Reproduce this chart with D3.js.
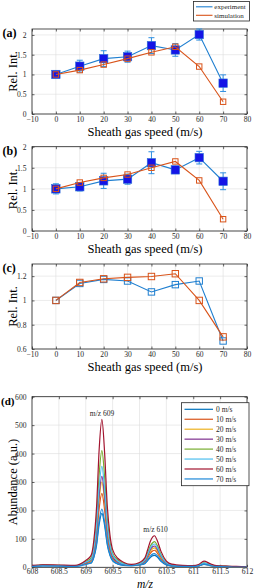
<!DOCTYPE html>
<html><head><meta charset="utf-8">
<script src="https://cdn.jsdelivr.net/npm/d3@7"></script>
<style>body{margin:0;background:#fff}svg{display:block}</style>
</head><body>
<script>
// ---------- data ----------
const speeds = [0,10,20,30,40,50,60,70];
const expA = [1.0,1.21,1.4,1.45,1.73,1.62,2.01,0.78];
const errA = [0.03,0.15,0.2,0.14,0.2,0.16,0.14,0.21];
const simA = [1.0,1.11,1.25,1.4,1.56,1.7,1.2,0.31];
const expB = [1.0,1.05,1.19,1.23,1.62,1.45,1.74,1.18];
const errB = [0.12,0.1,0.18,0.12,0.26,0.08,0.15,0.2];
const simB = [1.0,1.15,1.26,1.34,1.5,1.65,1.2,0.28];
const expC = [1.0,1.14,1.173,1.16,1.07,1.13,1.16,0.666];
const simC = [1.0,1.148,1.178,1.19,1.197,1.22,1.0,0.70];
const speedTicks = [-10,0,10,20,30,40,50,60,70,80];
const relTicksAB = [0,0.5,1,1.5,2];
const relTicksC = [0.6,0.8,1,1.2];

const mz = [608,608.2,608.5,608.8,609.0,609.1,609.15,609.2,609.25,609.3,609.35,609.4,609.45,609.5,609.6,609.7,609.85,
  610.0,610.1,610.15,610.2,610.25,610.28,610.33,610.4,610.5,610.6,610.8,611.0,611.1,611.2,611.3,611.4,611.6,611.8,612];
const ab0  = [4,7,6,4,14,15,34,76,152,190,148,80,42,23,11,7,6, 8,13,23,34,41,42,36,21,8,4,3,3,5,10,7,3,2,1,1];
const ab10 = [4,6,6,4,14,21,47,104,208,260,203,109,57,31,16,9,7, 9,18,33,49,58,60,51,30,12,6,4,3,5,12,8,4,3,2,2];
const ab20 = [5,7,6,5,15,24,54,120,240,300,234,126,66,36,18,11,8, 10,20,37,56,66,68,58,34,14,7,4,4,6,13,8,4,3,2,2];
const ab30 = [5,7,6,5,16,26,58,128,256,320,250,134,70,38,19,11,8, 11,22,41,62,73,75,64,38,15,8,5,4,6,14,9,4,3,2,2];
const ab40 = [5,8,7,5,20,33,74,164,328,410,320,172,90,49,25,14,9, 13,27,50,74,87,90,77,45,18,9,5,4,7,16,10,5,3,2,2];
const ab50 = [5,7,6,5,18,28,64,142,284,355,277,149,78,43,21,12,9, 12,25,45,67,80,82,70,41,16,8,5,4,7,15,10,5,3,2,2];
const ab60 = [7,9,8,7,24,42,94,208,416,520,406,218,114,62,31,18,10, 17,33,61,91,108,111,94,56,22,11,7,6,10,22,14,7,4,3,2];
const ab70 = [3,4,4,3,10,16,37,82,164,205,160,86,45,25,12,8,6, 8,14,26,39,47,48,41,24,10,5,3,3,5,11,7,3,2,1,1];
const specLabels = ["0 m/s","10 m/s","20 m/s","30 m/s","40 m/s","50 m/s","60 m/s","70 m/s"];
const specColors = ["#0072BD","#D95319","#EDB120","#7E2F8E","#77AC30","#4DBEEE","#A2142F","#1e88d8"];
const mzTicks = [608,608.5,609,609.5,610,610.5,611,611.5,612];
const abTicks = [0,100,200,300,400,500,600];

// ---------- drawing ----------
const W = 256, H = 588;
const FONT = "'Liberation Serif','Times New Roman',serif";
const svg = d3.select("body").append("svg").attr("width", W).attr("height", H)
  .style("font-family", FONT);
const L = 32, R = 247;
const ORANGE = "#D95319";

function frame(g, x, y, xt, yt, xfmt, yfmt, xpad) {
  const [x0, x1] = x.range(), [y0, y1] = y.range();
  g.append("g").selectAll("line").data(xt).join("line")
    .attr("x1", d => x(d)).attr("x2", d => x(d)).attr("y1", y0).attr("y2", y1)
    .attr("stroke", "#dedede").attr("stroke-width", 0.6);
  g.append("g").selectAll("line").data(yt).join("line")
    .attr("y1", d => y(d)).attr("y2", d => y(d)).attr("x1", x0).attr("x2", x1)
    .attr("stroke", "#dedede").attr("stroke-width", 0.6);
  const styleAx = a => {
    a.select(".domain").remove();
    a.selectAll("line").attr("stroke", "#262626").attr("stroke-width", 0.7);
    a.selectAll("text").attr("fill", "#262626").style("font-size", "7.6px").style("font-family", FONT);
  };
  g.append("g").attr("transform", `translate(0,${y0})`)
    .call(d3.axisBottom(x).tickValues(xt).tickFormat(xfmt).tickSizeInner(-2.5).tickSizeOuter(0).tickPadding(xpad))
    .call(styleAx);
  g.append("g").attr("transform", `translate(0,${y1})`)
    .call(d3.axisTop(x).tickValues(xt).tickFormat("").tickSizeInner(-2.5).tickSizeOuter(0))
    .call(styleAx);
  g.append("g").attr("transform", `translate(${x0},0)`)
    .call(d3.axisLeft(y).tickValues(yt).tickFormat(yfmt).tickSizeInner(-2.5).tickSizeOuter(0).tickPadding(5.5))
    .call(styleAx);
  g.append("g").attr("transform", `translate(${x1},0)`)
    .call(d3.axisRight(y).tickValues(yt).tickFormat("").tickSizeInner(-2.5).tickSizeOuter(0))
    .call(styleAx);
  g.append("rect").attr("x", x0).attr("y", y1).attr("width", x1 - x0).attr("height", y0 - y1)
    .attr("fill", "none").attr("stroke", "#262626").attr("stroke-width", 0.8);
}

function labels(top, bottom, label, labSize, labX, ylab, xlabY, xlab, xlabSize, italic) {
  svg.append("text").attr("x", labX).attr("y", top + 8).text(label)
    .style("font-size", labSize + "px").style("font-weight", "bold").attr("fill", "#000");
  svg.append("text").attr("transform", `translate(17,${(top + bottom) / 2}) rotate(-90)`)
    .attr("text-anchor", "middle").text(ylab).style("font-size", "12.5px").attr("fill", "#000");
  svg.append("text").attr("x", 145).attr("y", xlabY).attr("text-anchor", "middle").text(xlab)
    .style("font-size", xlabSize + "px").style("font-style", italic ? "italic" : "normal").attr("fill", "#000");
}

function relPanel(top, bottom, ydom, yt, exp, err, sim, label, filled) {
  const x = d3.scaleLinear().domain([-10, 80]).range([L, R]);
  const y = d3.scaleLinear().domain(ydom).range([bottom, top]);
  const g = svg.append("g");
  frame(g, x, y, speedTicks, yt, d3.format("d"), d => d3.format("")(d), 2.5);
  const line = d3.line().x((d, i) => x(speeds[i])).y(d => y(d));
  g.append("path").attr("d", line(exp)).attr("fill", "none").attr("stroke", "#1f7fd0").attr("stroke-width", 1.1);
  if (err) {
    const eg = g.append("g").attr("stroke", "#2f8fe0").attr("stroke-width", 1);
    speeds.forEach((s, i) => {
      const cx = x(s), yt1 = y(exp[i] + err[i]), yb = y(exp[i] - err[i]);
      eg.append("line").attr("x1", cx).attr("x2", cx).attr("y1", yt1).attr("y2", yb);
      eg.append("line").attr("x1", cx - 3).attr("x2", cx + 3).attr("y1", yt1).attr("y2", yt1);
      eg.append("line").attr("x1", cx - 3).attr("x2", cx + 3).attr("y1", yb).attr("y2", yb);
    });
  }
  if (filled) {
    g.append("g").selectAll("rect").data(exp).join("rect")
      .attr("x", (d, i) => x(speeds[i]) - 4.2).attr("y", d => y(d) - 4.2).attr("width", 8.4).attr("height", 8.4)
      .attr("fill", "#1414e6").attr("stroke", "#2a6fd6").attr("stroke-width", 0.6);
  } else {
    g.append("g").selectAll("rect").data(exp).join("rect")
      .attr("x", (d, i) => x(speeds[i]) - 3.2).attr("y", d => y(d) - 3.2).attr("width", 6.4).attr("height", 6.4)
      .attr("fill", "none").attr("stroke", "#1f7fd0").attr("stroke-width", 1);
  }
  g.append("path").attr("d", line(sim)).attr("fill", "none").attr("stroke", ORANGE).attr("stroke-width", 1.1);
  const ms = filled ? 5.4 : 6.4;
  g.append("g").selectAll("rect").data(sim).join("rect")
    .attr("x", (d, i) => x(speeds[i]) - ms / 2).attr("y", d => y(d) - ms / 2).attr("width", ms).attr("height", ms)
    .attr("fill", "none").attr("stroke", ORANGE).attr("stroke-width", 1);
  labels(top, bottom, label, 12, 2.5, "Rel. Int.", bottom + 22, "Sheath gas speed (m/s)", 12.5, false);
}

relPanel(29, 114, [0, 2.15], relTicksAB, expA, errA, simA, "(a)", true);
relPanel(146.7, 231, [0, 2], relTicksAB, expB, errB, simB, "(b)", true);
relPanel(264, 349, [0.6, 1.3], relTicksC, expC, null, simC, "(c)", false);

// legend for (a)
{
  const lg = svg.append("g");
  lg.append("rect").attr("x", 193.5).attr("y", 1.5).attr("width", 56).attr("height", 19.5)
    .attr("fill", "#fff").attr("stroke", "#262626").attr("stroke-width", 0.8);
  [["experiment", "#1f7fd0", 6.8], ["simulation", ORANGE, 15.3]].forEach(([t, c, yy]) => {
    lg.append("line").attr("x1", 196).attr("x2", 212.5).attr("y1", yy).attr("y2", yy)
      .attr("stroke", c).attr("stroke-width", 1.1);
    lg.append("text").attr("x", 214.3).attr("y", yy + 2.3).text(t).style("font-size", "7px").attr("fill", "#262626");
  });
}

// ---------- panel (d) ----------
{
  const top = 396.7, bottom = 567.3;
  const x = d3.scaleLinear().domain([608, 612]).range([L, R]);
  const y = d3.scaleLinear().domain([0, 600]).range([bottom, top]);
  const g = svg.append("g");
  frame(g, x, y, mzTicks, abTicks, d => d3.format("")(d), d3.format("d"), 1.5);
  svg.append("clipPath").attr("id", "clipd").append("rect")
    .attr("x", L).attr("y", top).attr("width", R - L).attr("height", bottom - top);
  const series = [ab0, ab10, ab20, ab30, ab40, ab50, ab60, ab70];
  const line = d3.line().x((d, i) => x(mz[i])).y(d => y(d)).curve(d3.curveMonotoneX);
  const lgG = g.append("g").attr("clip-path", "url(#clipd)");
  series.forEach((s, k) => {
    lgG.append("path").attr("d", line(s)).attr("fill", "none").attr("stroke", specColors[k]).attr("stroke-width", 1.2);
  });
  g.append("text").attr("x", 102).attr("y", 415.5).attr("text-anchor", "middle").text("m/z 609")
    .style("font-size", "7.5px").attr("fill", "#262626");
  g.append("text").attr("x", 155.5).attr("y", 531.8).attr("text-anchor", "middle").text("m/z 610")
    .style("font-size", "7.5px").attr("fill", "#262626");
  const lg = svg.append("g");
  lg.append("rect").attr("x", 181.5).attr("y", 402.7).attr("width", 67.5).attr("height", 83)
    .attr("fill", "#fff").attr("stroke", "#262626").attr("stroke-width", 0.8);
  specLabels.forEach((t, k) => {
    const yy = 409.3 + k * 9.95;
    lg.append("line").attr("x1", 184.5).attr("x2", 213).attr("y1", yy).attr("y2", yy)
      .attr("stroke", specColors[k]).attr("stroke-width", 1.2);
    lg.append("text").attr("x", 216).attr("y", yy + 2.7).text(t).style("font-size", "7.5px").attr("fill", "#262626");
  });
  labels(top, bottom, "(d)", 11, 1, "Abundance (a.u.)", 587.5, "m/z", 11.5, true);
}
</script>
</body></html>
